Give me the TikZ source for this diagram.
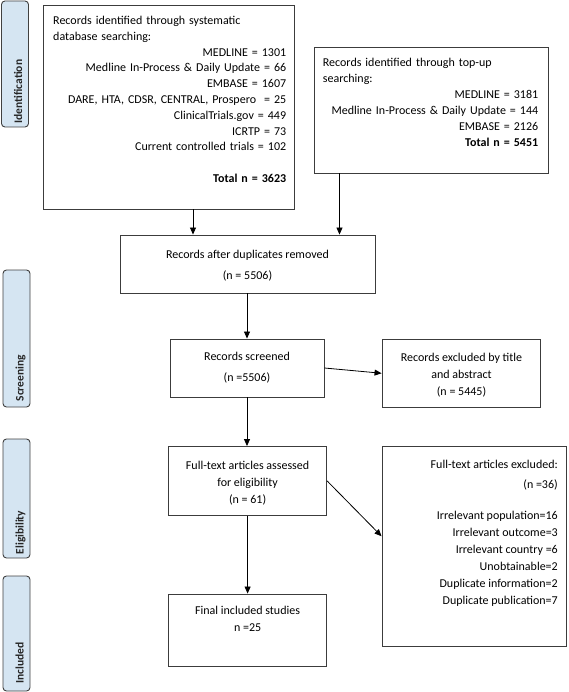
\documentclass[tikz,border=0pt]{standalone}
\usepackage{fontspec}
\setmainfont{Carlito}
\usetikzlibrary{arrows.meta}
\definecolor{boxgray}{HTML}{3C3C3C}
\definecolor{stagefill}{HTML}{D5E5F2}
\definecolor{stageborder}{HTML}{404040}
\begin{document}
\begin{tikzpicture}[x=1pt,y=-1pt,
  box/.style={draw=boxgray, line width=0.9pt, inner sep=0pt, fill=white},
  txt/.style={inner sep=0pt, font=\fontsize{12}{17}\selectfont},
  arr/.style={draw=black, line width=0.8pt, -{Triangle[length=7pt,width=6pt]}},
  stage/.style={draw=stageborder, fill=stagefill, rounded corners=3.5pt, line width=0.9pt, inner sep=0pt, minimum width=27pt},
  stagetxt/.style={rotate=90, anchor=base west, inner sep=0pt, font=\fontsize{11.5}{14}\selectfont\bfseries, text=black!85}]
\useasboundingbox (0,0) rectangle (568,692);
% stage labels
\node[stage, minimum height=126pt] (s1) at (15,64) {};
\node[stage, minimum height=137pt] (s2) at (16.5,338.5) {};
\node[stage, minimum height=119pt] (s3) at (16.5,498.5) {};
\node[stage, minimum height=115pt] (s4) at (16.5,633.5) {};
\node[stagetxt] (l1) at ([shift={(7pt,4pt)}]s1.south) {Identification};
\node[stagetxt] (l2) at ([shift={(7pt,6pt)}]s2.south) {Screening};
\node[stagetxt] (l3) at ([shift={(7pt,4pt)}]s3.south) {Eligibility};
\node[stagetxt] (l4) at ([shift={(7pt,8pt)}]s4.south) {Included};
% boxes
\node[box, minimum width=251pt, minimum height=204pt] (b1) at (168.5,107) {};
\node[box, minimum width=234pt, minimum height=126pt] (b2) at (431,110) {};
\node[box, minimum width=255pt, minimum height=58pt] (b3) at (247.5,264) {};
\node[box, minimum width=154pt, minimum height=58pt] (b4) at (247,368) {};
\node[box, minimum width=158.5pt, minimum height=68.5pt] (b5) at (461.25,373.25) {};
\node[box, minimum width=158.3pt, minimum height=69pt] (b6) at (247.6,481) {};
\node[box, minimum width=184pt, minimum height=199.5pt] (b7) at (474,546.25) {};
\node[box, minimum width=158.3pt, minimum height=72.4pt] (b8) at (247.6,630.2) {};
% texts
\node[txt, anchor=north west, align=left, text width=233pt, font=\fontsize{12}{15.8}\selectfont] (t1) at (53,16)
 {Records identified through systematic\\database searching:\\
  \hspace*{\fill}MEDLINE = 1301\\
  \hspace*{\fill}Medline In-Process \& Daily Update = 66\\
  \hspace*{\fill}EMBASE = 1607\\
  \hspace*{\fill}DARE, HTA, CDSR, CENTRAL, Prospero \ = 25\\
  \hspace*{\fill}ClinicalTrials.gov = 449\\
  \hspace*{\fill}ICRTP = 73\\
  \hspace*{\fill}Current controlled trials = 102\\[15.8pt]
  \hspace*{\fill}\textbf{Total n = 3623}};
\node[txt, anchor=north west, align=left, text width=215.3pt, font=\fontsize{12}{16}\selectfont] (t2) at (322.7,58)
 {Records identified through top-up\\searching:\\
  \hspace*{\fill}MEDLINE = 3181\\
  \hspace*{\fill}Medline In-Process \& Daily Update = 144\\
  \hspace*{\fill}EMBASE = 2126\\
  \hspace*{\fill}\textbf{Total n = 5451}};
\node[txt, align=center, font=\fontsize{12}{21}\selectfont] (t3) at (247.5,265.5) {Records after duplicates removed\\(n = 5506)};
\node[txt, align=center, font=\fontsize{12}{21}\selectfont] (t4) at (247,368) {Records screened\\(n =5506)};
\node[txt, align=center] (t5) at (461.5,375) {Records excluded by title\\and abstract\\(n = 5445)};
\node[txt, align=center] (t6) at (247.6,483) {Full-text articles assessed\\for eligibility\\(n = 61)};
\node[txt, anchor=north east, align=right] (t7) at (558,460)
 {Full-text articles excluded:\\[3pt](n =36)\\[14pt]
  Irrelevant population=16\\Irrelevant outcome=3\\Irrelevant country =6\\Unobtainable=2\\Duplicate information=2\\Duplicate publication=7};
\node[txt, anchor=north, align=center, font=\fontsize{12}{16.5}\selectfont] (t8) at (247.6,606) {Final included studies\\n =25};
% connectors
\draw[arr] ([xshift=24.5pt]b1.south) coordinate (c1) -- (c1 |- b3.north);
\draw[arr] ([xshift=-91.5pt]b2.south) coordinate (c2) -- (c2 |- b3.north);
\draw[arr] (b3.south -| b4.north) -- (b4.north);
\draw[arr] (b4.east) -- (b5.west);
\draw[arr] (b4.south) -- (b4.south |- b6.north);
\draw[arr] (b6.east) -- ([yshift=10pt]b7.west);
\draw[arr] (b6.south) -- (b8.north);
\end{tikzpicture}
\end{document}
